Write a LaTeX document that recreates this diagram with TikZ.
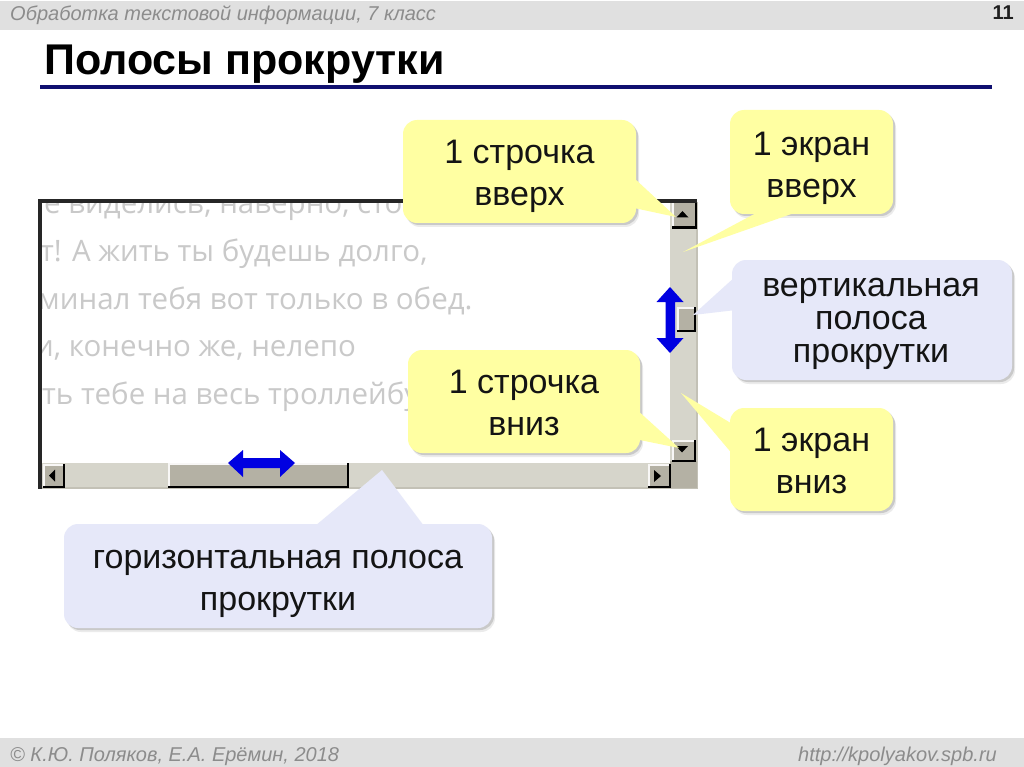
\documentclass[tikz,border=0pt]{standalone}
\usepackage{fontspec}
\setmainfont{Liberation Sans}
\newfontfamily\ghostfont{Open Sans}
\definecolor{bandc}{HTML}{E0E0E0}
\definecolor{bandt}{HTML}{8C8C8C}
\definecolor{navyc}{HTML}{101070}
\definecolor{yel}{HTML}{FFFFA2}
\definecolor{lav}{HTML}{E6E8F9}
\definecolor{barc}{HTML}{D6D5CB}
\definecolor{btnc}{HTML}{B4B1A4}
\definecolor{ghost}{HTML}{C9C9C9}
\newcommand{\callout}[3]{%
  \fill[black,opacity=.08,shift={(3,4)},rounded corners=14] #2;
  \fill[black,opacity=.14,shift={(2,2)},rounded corners=14] #2;
  \fill[#1,rounded corners=14] #2;
  \fill[#1] #3;
}
\newcommand{\btn}[4]{%
  \fill[black] (#1,#2) rectangle (#3,#4);
  \fill[white!90!btnc] (#1,#2) rectangle (#3-2.5,#4-2.5);
  \fill[btnc] (#1+1.5,#2+1.5) rectangle (#3-2.5,#4-2.5);
}
\tikzset{
  say/.style={align=center,font=\fontsize{34}{42}\selectfont,inner sep=0pt,text=black!92},
  sayclose/.style={align=center,font=\fontsize{34}{33}\selectfont,inner sep=0pt,text=black!92},
  ghosttext/.style={anchor=base west,inner sep=0pt,text=ghost,font=\ghostfont\fontsize{29.5}{30}\selectfont},
  blue arrow/.style={fill={rgb,255:red,0;green,0;blue,225}}
}
\begin{document}
\begin{tikzpicture}[x=1pt,y=-1pt]
\useasboundingbox (0,0) rectangle (1024,767);
\fill[white] (0,0) rectangle (1024,767);
% header
\fill[bandc] (0,1) rectangle (1024,30);
\node[anchor=base west,inner sep=0pt,text=bandt,font=\itshape\fontsize{20}{22}\selectfont] (head) at (10,21) {Обработка текстовой информации, 7 класс};
\node[anchor=base east,inner sep=0pt,text=black!88,font=\bfseries\fontsize{20}{22}\selectfont] (num) at (1014,20) {11};
\node[anchor=base west,inner sep=0pt,font=\bfseries\fontsize{43}{46}\selectfont] (title) at (44,75) {Полосы прокрутки};
\fill[navyc] (40,85.5) rectangle (992,89.5);
% footer
\fill[bandc] (0,738) rectangle (1024,767);
\node[anchor=base west,inner sep=0pt,text=bandt,font=\itshape\fontsize{20}{22}\selectfont] (foot) at (10,761) {© К.Ю. Поляков, Е.А. Ерёмин, 2018};
\node[anchor=base east,inner sep=0pt,text=bandt,font=\itshape\fontsize{20}{22}\selectfont] (url) at (997,761) {http://kpolyakov.spb.ru};
% window
\begin{scope}
\clip (42,202) rectangle (670,462);
\node[ghosttext] (g1) at (44,214) {е виделись, наверно, сто};
\node[ghosttext] (g2) at (40,261) {т! А жить ты будешь долго,};
\node[ghosttext] (g3) at (38,309) {минал тебя вот только в обед.};
\node[ghosttext] (g4) at (35,356) {и, конечно же, нелепо};
\node[ghosttext] (g5) at (42,404) {ть тебе на весь троллейбу};
\end{scope}
\fill[barc] (670,202) rectangle (697,488);
\fill[barc] (42,463) rectangle (697,488);
\fill[btnc!80!white] (696,202) rectangle (697.5,488);
\fill[btnc!80!white] (42,487) rectangle (697.5,488.5);
\fill[btnc] (670,461) rectangle (697,488);
% buttons and thumbs
\btn{672}{201}{697}{229}
\fill[black] (676.5,217.5) -- (688.5,217.5) -- (682.5,211) -- cycle;
\btn{672}{440}{696}{462}
\fill[black] (676,446) -- (688,446) -- (682,452.5) -- cycle;
\btn{43}{464}{65}{488}
\fill[black] (55,469.5) -- (55,481.5) -- (49,475.5) -- cycle;
\btn{648}{464}{671}{488}
\fill[black] (654,470) -- (654,482) -- (661,476) -- cycle;
\btn{168}{463}{349}{488}
\btn{677}{307}{696}{332}
\fill[black!85] (38,199.5) rectangle (697,203);
\fill[black!85] (38,199.5) rectangle (42,488.5);
% callouts
\callout{yel}{(403,120) rectangle (636,223)}{(620,165) -- (676,217) -- (620,205) -- cycle}
\callout{yel}{(730,110) rectangle (893,214)}{(758,212) -- (683,252) -- (797,212) -- cycle}
\callout{lav}{(732,260) rectangle (1012,380)}{(736,276) -- (693,315) -- (736,310) -- cycle}
\callout{yel}{(408,350) rectangle (640,453)}{(625,399) -- (679,448) -- (625,437) -- cycle}
\callout{yel}{(730,408) rectangle (893,511)}{(734,425) -- (681,393) -- (734,456) -- cycle}
\callout{lav}{(64,524) rectangle (492,628)}{(315,526) -- (382,470) -- (424,526) -- cycle}
\node[say] (a) at (519.5,176) {1 строчка\\вверх};
\node[say] (b) at (811.5,168) {1 экран\\вверх};
\node[sayclose] (c) at (871,324) {вертикальная\\полоса\\прокрутки};
\node[say] (d) at (524,403) {1 строчка\\вниз};
\node[say] (e) at (811.5,461) {1 экран\\вниз};
\node[say] (f) at (278,583.5) {горизонтальная полоса\\прокрутки};
% blue arrows
\fill[blue arrow] (670,287) -- (683.5,302) -- (675,302) -- (675,338) -- (683.5,338) -- (670,353) -- (656.5,338) -- (665.5,338) -- (665.5,302) -- (656.5,302) -- cycle;
\fill[blue arrow] (228,463) -- (243,450) -- (243,458) -- (280,458) -- (280,450) -- (295,463) -- (280,477) -- (280,468) -- (243,468) -- (243,477) -- cycle;
\end{tikzpicture}
\end{document}
